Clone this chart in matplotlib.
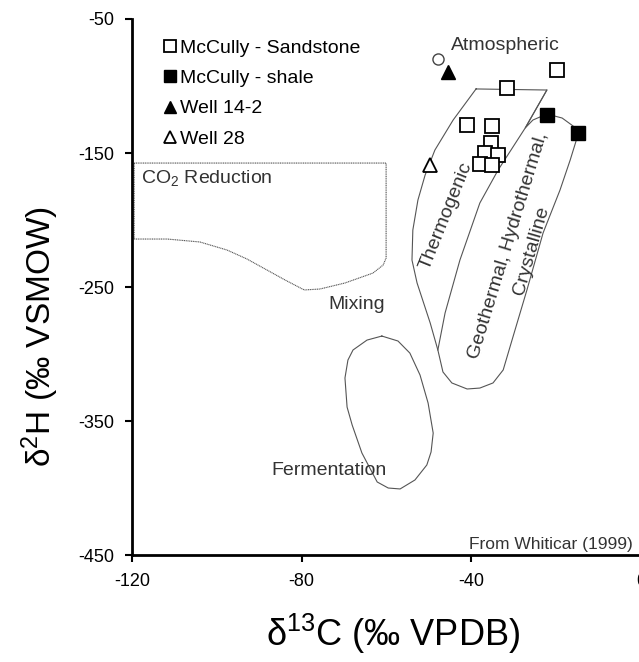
import numpy as np
import matplotlib
matplotlib.use("Agg")
import matplotlib.pyplot as plt

plt.rcParams['font.family'] = ['Liberation Sans', 'DejaVu Sans']
plt.rcParams['mathtext.fontset'] = 'custom'
plt.rcParams['mathtext.rm'] = 'Liberation Sans'
plt.rcParams['axes.unicode_minus'] = False

# ---- sample data (d13C, d2H) ----
sandstone_x = [-19.8, -31.6, -41.0, -35.1, -35.4, -36.8, -33.7, -38.0, -35.1]
sandstone_y = [-88.1, -101.5, -129.1, -129.9, -142.5, -150.0, -151.5, -158.2, -159.0]
shale_x = [-22.2, -14.9]
shale_y = [-121.6, -135.1]
well142_x = [-45.5]
well142_y = [-89.6]
well28_x = [-49.7]
well28_y = [-159.0]
atmos_x = [-47.9]
atmos_y = [-79.9]

# ---- Whiticar (1999) fields ----
co2_x = [-119.5, -60.1, -60.1, -60.8, -63.2, -69.8, -75.7, -79.4, -83.9, -88.2,
         -92.9, -97.6, -104.0, -111.7, -119.5, -119.5]
co2_y = [-157.5, -157.5, -228.4, -233.6, -239.6, -247.0, -251.5, -252.2, -244.8,
         -237.3, -229.1, -222.4, -216.4, -214.2, -214.2, -157.5]

ferm_x = [-61.1, -57.3, -54.5, -52.1, -50.2, -49.0, -49.5, -50.5, -53.3, -56.8,
          -59.6, -62.2, -65.8, -68.1, -69.3, -69.8, -69.1, -67.9, -64.6, -61.1]
ferm_y = [-286.6, -290.3, -299.3, -315.7, -336.6, -359.0, -373.1, -382.8, -394.0,
          -400.7, -400.0, -395.5, -373.9, -353.0, -339.6, -317.9, -304.5, -297.0,
          -289.6, -286.6]

outer_x = [-38.9, -22.2, -27.3, -25.5, -22.2, -18.6, -16.0, -15.1, -16.7, -19.1,
           -23.1, -26.9, -30.2, -32.5, -34.9, -38.0, -41.0, -44.6, -46.7, -47.9,
           -49.7, -52.8, -54.0, -53.8, -52.6, -50.9, -48.6, -44.3, -38.9]
outer_y = [-102.2, -103.0, -131.3, -125.4, -120.9, -123.9, -129.9, -138.8, -155.2,
           -177.6, -209.7, -252.2, -287.3, -311.9, -321.6, -325.4, -326.1, -321.6,
           -313.4, -297.0, -276.9, -247.0, -229.9, -207.5, -185.1, -166.4, -147.8,
           -125.4, -102.2]

inner_x = [-22.2, -27.3, -33.7, -38.0, -42.7, -46.2, -47.9]
inner_y = [-103.0, -131.3, -162.7, -187.3, -229.9, -269.4, -297.0]

xticks = [-120, -80, -40, 0]
yticks = [-50, -150, -250, -350, -450]

fig = plt.figure(figsize=(6.39, 6.62), dpi=100)
ax = fig.add_axes([0.2066, 0.1616, 0.7966, 0.8097])
ax.set_xlim(-120, 0)
ax.set_ylim(-450, -50)

field_style = dict(color='#555555', lw=0.8, zorder=1)
ax.plot(co2_x, co2_y, ls=(0, (1, 0.6)), **field_style)
ax.plot(ferm_x, ferm_y, **field_style)
ax.plot(outer_x, outer_y, **field_style)
ax.plot(inner_x, inner_y, **field_style)

lab = dict(fontsize=14, color='#333333', ha='center', va='center')
ax.text(-32.1, -70.1, 'Atmospheric', **lab)
ax.text(-117.9, -168.7, r'CO$\mathregular{_2}$ Reduction', fontsize=14,
        color='#333333', ha='left', va='center')
ax.text(-67.0, -263.4, 'Mixing', **lab)
ax.text(-73.6, -386.6, 'Fermentation', **lab)
ax.text(-46.0, -197.0, 'Thermogenic', rotation=68, rotation_mode='anchor', **lab)
ax.text(-31.2, -219.4, 'Geothermal, Hydrothermal,', rotation=73,
        rotation_mode='anchor', **lab)
ax.text(-25.8, -222.6, 'Crystalline', rotation=74, rotation_mode='anchor', **lab)
ax.text(-2.0, -448, 'From Whiticar (1999)', fontsize=12.5, color='#333333',
        ha='right', va='bottom')

# atmospheric point
ax.plot(atmos_x, atmos_y, 'o', ms=8, mfc='white', mec='#444444', mew=1, zorder=3)

ms = 9.5
h1, = ax.plot(sandstone_x, sandstone_y, 's', ms=ms, mfc='white', mec='black',
              mew=1.3, ls='none', zorder=4, label='McCully - Sandstone')
h2, = ax.plot(shale_x, shale_y, 's', ms=ms, mfc='black', mec='black',
              ls='none', zorder=4, label='McCully - shale')
h3, = ax.plot(well142_x, well142_y, '^', ms=ms, mfc='black', mec='black',
              ls='none', zorder=4, label='Well 14-2')
h4, = ax.plot(well28_x, well28_y, '^', ms=ms, mfc='white', mec='black',
              mew=1.3, ls='none', zorder=4, label='Well 28')

leg = ax.legend(handles=[h1, h2, h3, h4], loc='upper left',
                bbox_to_anchor=(0.059, 0.962), frameon=False, fontsize=14,
                handlelength=0.8, handletextpad=0.12, labelspacing=0.65,
                borderaxespad=0, borderpad=0, markerscale=0.85)

for s in ['top', 'right']:
    ax.spines[s].set_visible(False)
for s in ['left', 'bottom']:
    ax.spines[s].set_linewidth(2)

ax.set_xticks(xticks)
ax.set_yticks(yticks)
ax.tick_params(direction='out', length=5, width=1.5, labelsize=13, pad=8)

ax.set_xlabel(r'$\mathregular{δ^{13}}$C (‰ VPDB)', fontsize=26)
ax.xaxis.set_label_coords(0.513, -0.105)
ax.set_ylabel(r'$\mathregular{δ^{2}}$H (‰ VSMOW)', fontsize=24)
ax.yaxis.set_label_coords(-0.14, 0.407)

fig.savefig('out.png', dpi=100)
